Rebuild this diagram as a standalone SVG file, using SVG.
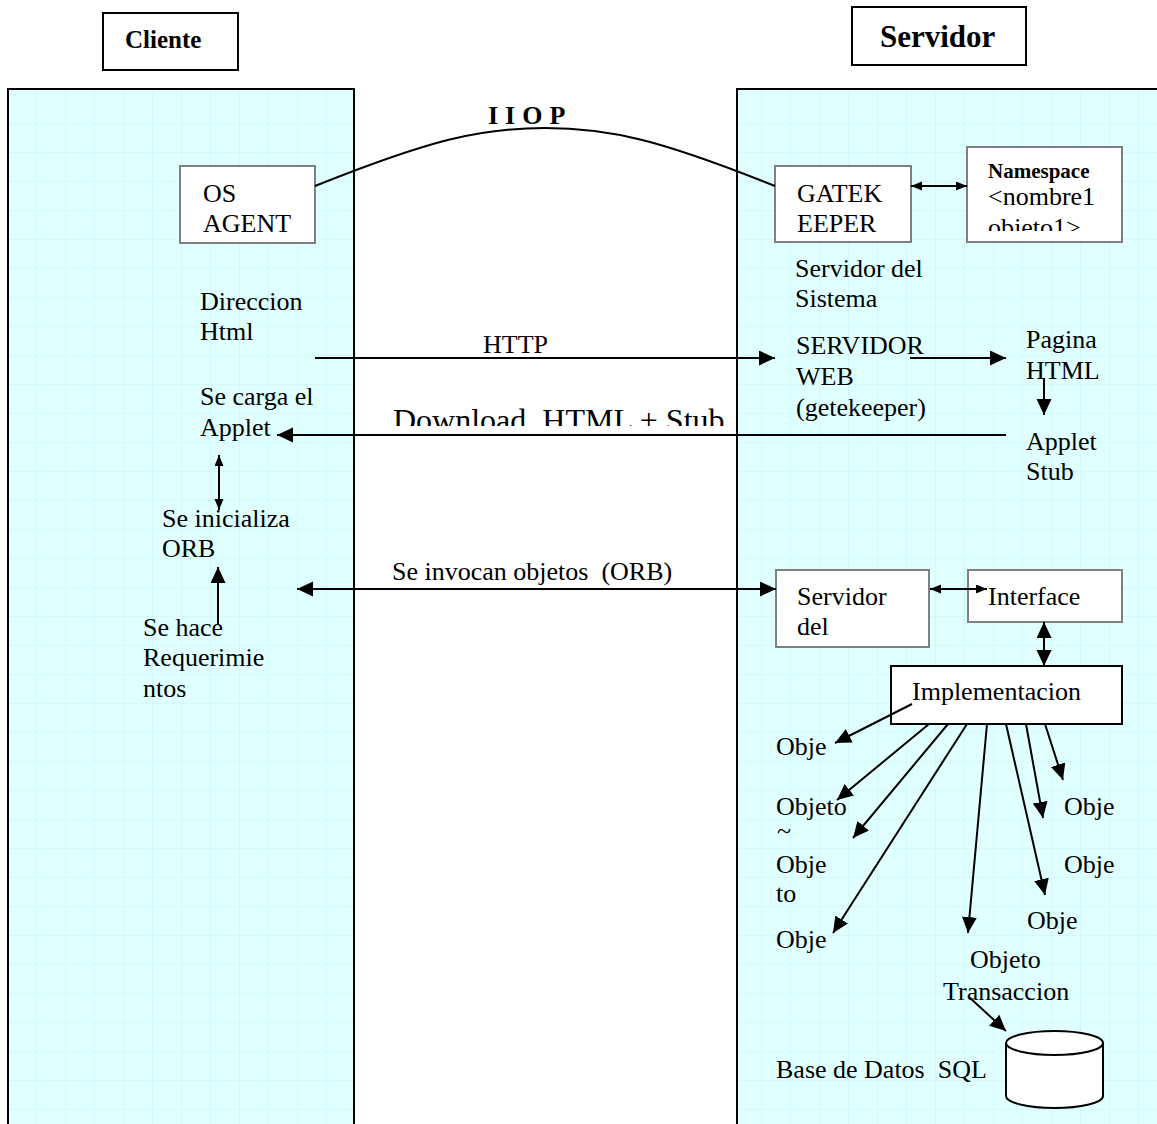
<svg xmlns="http://www.w3.org/2000/svg" width="1157" height="1124" viewBox="0 0 1157 1124">
<defs>
<pattern id="grid" patternUnits="userSpaceOnUse" x="7" y="7" width="29" height="29">
<rect width="29" height="29" fill="#E0FFFF"/>
<path d="M0,0 H29 M0,0 V29" stroke="#C6F6F6" stroke-width="1.2" fill="none"/>
</pattern>
<marker id="ah" markerUnits="userSpaceOnUse" markerWidth="17" markerHeight="16" refX="16" refY="7.5" orient="auto-start-reverse">
<path d="M0,0 L16,7.5 L0,15 z" fill="#000"/>
</marker>
<marker id="as" markerUnits="userSpaceOnUse" markerWidth="12" markerHeight="10" refX="11" refY="4.5" orient="auto-start-reverse">
<path d="M0,0 L11,4.5 L0,9 z" fill="#000"/>
</marker>
<clipPath id="nsclip"><rect x="968" y="148" width="153" height="83"/></clipPath>
<clipPath id="dlclip"><rect x="380" y="395" width="360" height="31"/></clipPath>
<clipPath id="tclip"><rect x="770" y="822" width="40" height="12"/></clipPath>
</defs>
<style>
text{font-family:"Liberation Serif","Times New Roman",serif;font-size:26px;fill:#000}
.b{font-weight:bold}
.panel{fill:url(#grid);stroke:#000;stroke-width:2}
.gbox{fill:#fff;stroke:#808080;stroke-width:2}
.kbox{fill:#fff;stroke:#000;stroke-width:2}
.ln{stroke:#000;stroke-width:2;fill:none}
.a{marker-end:url(#ah)}
.aa{marker-start:url(#ah);marker-end:url(#ah)}
.sa{marker-start:url(#as);marker-end:url(#as)}
</style>
<rect width="1157" height="1124" fill="#fff"/>

<g id="panel-cliente"><rect class="panel" x="8" y="89" width="346" height="1100"/></g>
<g id="panel-servidor"><rect class="panel" x="737" y="89" width="500" height="1100"/></g>

<g id="title-cliente"><rect class="kbox" x="103" y="13" width="135" height="57"/><text class="b" x="125" y="48" style="font-size:25px">Cliente</text></g>
<g id="title-servidor"><rect class="kbox" x="852" y="7" width="174" height="58"/><text class="b" x="880" y="47" style="font-size:31px">Servidor</text></g>

<g id="label-iiop"><text class="b" x="488" y="124" style="letter-spacing:7px">IIOP</text></g>
<g id="os-agent"><rect class="gbox" x="180" y="166" width="135" height="77"/><text x="203" y="202">OS</text><text x="203" y="232">AGENT</text></g>
<g id="gatekeeper"><rect class="gbox" x="775" y="166" width="136" height="76"/><text x="797" y="202">GATEK</text><text x="797" y="232">EEPER</text></g>
<g id="namespace"><rect class="gbox" x="967" y="147" width="155" height="95"/>
<g clip-path="url(#nsclip)"><text class="b" x="988" y="178" style="font-size:21px">Namespace</text><text x="988" y="205">&lt;nombre1</text><text x="988" y="236">objeto1&gt;</text></g></g>
<g id="servidor-sistema"><text x="795" y="277">Servidor del</text><text x="795" y="307">Sistema</text></g>
<g id="direccion"><text x="200" y="310">Direccion</text><text x="200" y="340">Html</text></g>
<g id="label-http"><text x="483" y="353">HTTP</text></g>
<g id="servidor-web"><text x="796" y="354">SERVIDOR</text><text x="796" y="385">WEB</text><text x="796" y="416">(getekeeper)</text></g>
<g id="pagina"><text x="1026" y="348">Pagina</text><text x="1026" y="379">HTML</text></g>
<g id="applet-stub"><text x="1026" y="450">Applet</text><text x="1026" y="480">Stub</text></g>
<g id="carga"><text x="200" y="405">Se carga el</text><text x="200" y="436">Applet</text></g>
<g id="label-download"><g clip-path="url(#dlclip)"><text x="393" y="431" style="font-size:32px" xml:space="preserve">Download  HTML + Stub</text></g></g>
<g id="inicializa"><text x="162" y="527">Se inicializa</text><text x="162" y="557">ORB</text></g>
<g id="label-invocan"><text x="392" y="580" xml:space="preserve">Se invocan objetos  (ORB)</text></g>
<g id="requerimientos"><text x="143" y="636">Se hace</text><text x="143" y="666">Requerimie</text><text x="143" y="697">ntos</text></g>
<g id="servidor-del"><rect class="gbox" x="776" y="570" width="153" height="77"/><text x="797" y="605">Servidor</text><text x="797" y="635">del</text></g>
<g id="interface"><rect class="gbox" x="968" y="570" width="154" height="52"/><text x="988" y="605">Interface</text></g>
<g id="implementacion"><rect class="kbox" x="891" y="666" width="231" height="58"/><text x="912" y="700">Implementacion</text></g>
<g id="obj1"><text x="776" y="755">Obje</text></g>
<g id="obj2"><text x="776" y="815">Objeto</text><g clip-path="url(#tclip)"><text x="777" y="839">~</text></g></g>
<g id="obj3"><text x="776" y="873">Obje</text><text x="776" y="902">to</text></g>
<g id="obj4"><text x="776" y="948">Obje</text></g>
<g id="obj5"><text x="1064" y="815">Obje</text></g>
<g id="obj6"><text x="1064" y="873">Obje</text></g>
<g id="obj7"><text x="1027" y="929">Obje</text></g>
<g id="obj-transaccion"><text x="970" y="968">Objeto</text><text x="943" y="1000">Transaccion</text></g>
<g id="base-datos"><text x="776" y="1078" xml:space="preserve">Base de Datos  SQL</text>
<path class="kbox" d="M1006,1043 V1096 A48.5,12 0 0 0 1103,1096 V1043"/>
<ellipse class="kbox" cx="1054.5" cy="1043" rx="48.5" ry="12"/></g>

<g id="connectors">
<path class="ln" d="M315,186 C430,140 480,128 545,128 C610,128 660,140 775,186"/>
<line class="ln sa" x1="911" y1="186" x2="967" y2="186"/>
<line class="ln a" x1="315" y1="358" x2="775" y2="358"/>
<line class="ln a" x1="910" y1="358" x2="1006" y2="358"/>
<line class="ln a" x1="1044" y1="378" x2="1044" y2="415"/>
<line class="ln a" x1="1006" y1="435" x2="277" y2="435"/>
<line class="ln sa" x1="219" y1="455" x2="219" y2="510"/>
<line class="ln a" x1="218" y1="625" x2="218" y2="567"/>
<line class="ln aa" x1="297" y1="589" x2="776" y2="589"/>
<line class="ln sa" x1="930" y1="589" x2="987" y2="589"/>
<line class="ln aa" x1="1044" y1="622" x2="1044" y2="666"/>
<line class="ln a" x1="912" y1="704" x2="835" y2="743"/>
<line class="ln a" x1="929" y1="724" x2="837" y2="800"/>
<line class="ln a" x1="948" y1="724" x2="853" y2="838"/>
<line class="ln a" x1="967" y1="724" x2="833" y2="933"/>
<line class="ln a" x1="987" y1="724" x2="968" y2="933"/>
<line class="ln a" x1="1006" y1="724" x2="1045" y2="895"/>
<line class="ln a" x1="1026" y1="724" x2="1043" y2="818"/>
<line class="ln a" x1="1045" y1="724" x2="1063" y2="780"/>
<line class="ln a" x1="969" y1="997" x2="1006" y2="1031"/>
</g>
</svg>
